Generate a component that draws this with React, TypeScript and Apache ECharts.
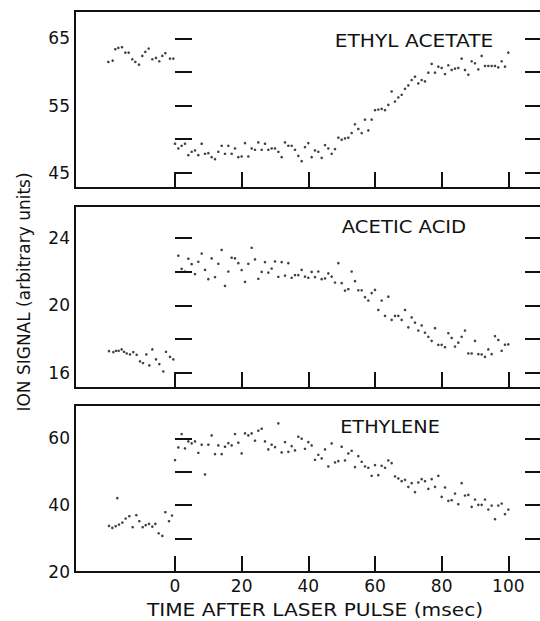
import React, { useEffect, useRef } from "react";
import * as echarts from "echarts";

// ---------- DATA ----------
// Ethyl acetate
const eaPreTime = [-20, -18.7, -17.9, -17, -15.9, -14.9, -13.9, -12.8, -11.9, -10.8, -9.8, -8.9, -7.9, -6.8, -5.7, -4.7, -3.8, -2.9, -1.5, -0.5];
const eaPre = [61.5, 61.7, 63.4, 63.6, 63.7, 62.9, 62.9, 61.9, 61.5, 61.1, 62.4, 63.0, 63.5, 61.9, 62.1, 61.6, 62.4, 62.8, 62.0, 62.0];
const eaPostTime = [0, 1, 2, 3, 4, 5, 6, 7, 8, 9, 10, 11, 12, 13, 14, 15, 16, 17, 18, 19, 20, 21, 22, 23, 24, 25, 26, 27, 28, 29, 30, 31, 32, 33, 34, 35, 36, 37, 38, 39, 40, 41, 42, 43, 44, 45, 46, 47, 48, 49, 50, 51, 52, 53, 54, 55, 56, 57, 58, 59, 60, 61, 62, 63, 64, 65, 66, 67, 68, 69, 70, 71, 72, 73, 74, 75, 76, 77, 78, 79, 80, 81, 82, 83, 84, 85, 86, 87, 88, 89, 90, 91, 92, 93, 94, 95, 96, 97, 98, 99, 100];
const eaPost = [
  49.3, 48.6, 49.0, 49.3, 47.6, 48.1, 48.3, 47.6, 49.3, 47.8, 47.9, 47.3, 47.0, 48.1, 49.0, 47.8, 49.0, 47.8, 48.6, 47.3,
  47.4, 49.4, 47.4, 48.6, 48.4, 49.5, 48.4, 49.3, 48.4, 48.6, 48.6, 48.1, 47.3, 49.5, 49.0,
  49.0, 48.4, 47.5, 46.7, 48.8, 49.4, 47.3, 48.3, 48.1, 47.2, 49.1, 48.6, 47.8, 48.5, 50.2, 49.9, 50.1, 50.2, 50.9, 52.2,
  51.5, 50.9, 52.9, 51.3, 52.9, 54.3, 54.4, 54.5, 54.3, 55.1, 57.1, 55.6, 56.2, 56.6, 57.5, 58.0, 58.8, 59.3, 58.3, 58.8,
  58.6, 59.9, 61.2, 59.9, 60.8, 60.6, 59.7, 61.0, 60.3, 60.5, 60.6, 62.0, 60.3, 59.6, 61.6, 61.3, 60.4, 62.4, 60.9, 60.9,
  60.9, 60.9, 60.7, 61.6, 60.8, 62.9,
];

// Acetic acid
const aaPreTime = [-19.8, -18.5, -17.7, -16.9, -16.0, -15.3, -14.5, -13.5, -12.5, -11.5, -10.5, -9.6, -8.6, -7.7, -6.8, -5.7, -4.7, -3.5, -2.7, -1.5, -0.5];
const aaPre = [17.29, 17.23, 17.31, 17.31, 17.39, 17.25, 17.15, 17.09, 17.23, 17.07, 16.68, 16.58, 17.09, 16.44, 17.39, 16.80, 16.52, 16.08, 17.25, 16.95, 16.80];
const aaPostTime = [1, 2, 3, 4, 5, 6, 7, 8, 9, 10, 11, 12, 13, 14, 15, 16, 17, 18, 19, 20, 21, 22, 23, 24, 25, 26, 27, 28, 29, 30, 31, 32, 33, 34, 35, 36, 37, 38, 39, 40, 41, 42, 43, 44, 45, 46, 47, 48, 49, 50, 51, 52, 53, 54, 55, 56, 57, 58, 59, 60, 61, 62, 63, 64, 65, 66, 67, 68, 69, 70, 71, 72, 73, 74, 75, 76, 77, 78, 79, 80, 81, 82, 83, 84, 85, 86, 87, 88, 89, 90, 91, 92, 93, 94, 95, 96, 97, 98, 99, 100];
const aaPost = [
  22.95, 22.17, 22.01, 22.77, 22.45, 21.86, 22.59, 23.08, 22.11, 21.56, 22.79, 21.68, 22.47, 23.29, 21.16, 22.01, 22.83, 22.79, 22.51, 22.10,
  21.40, 22.47, 23.42, 22.73, 21.58, 21.99, 22.57, 21.95, 22.19, 22.61, 21.70, 22.57, 21.77, 22.51, 21.64, 21.80, 21.80, 22.11, 21.71, 21.64,
  21.99, 21.68, 22.01, 21.56, 21.60, 21.90, 21.71, 21.36, 22.51, 21.32, 20.88, 20.96, 22.01, 21.44, 20.90, 20.90, 20.49, 20.29, 20.73, 20.92,
  19.73, 20.29, 19.38, 20.52, 19.14, 19.38, 19.38, 19.14, 19.73, 18.70, 19.29, 18.98, 18.51, 18.81, 18.38, 18.14, 17.90, 18.65, 17.66, 17.66,
  17.52, 18.35, 18.07, 17.56, 17.79, 18.14, 18.51, 17.15, 17.15, 17.90, 17.11, 17.09, 16.95, 17.39, 17.11, 18.18, 17.95, 17.31, 17.67, 17.69,
];

// Ethylene
const etPreTime = [-19.8, -18.8, -17.8, -17.3, -16.8, -15.8, -14.8, -13.7, -12.7, -11.6, -10.7, -9.7, -8.8, -7.8, -6.8, -5.9, -4.9, -3.8, -2.9, -1.8, -0.9];
const etPre = [33.8, 33.2, 33.7, 42.1, 34.2, 34.8, 36.0, 36.7, 33.4, 37.0, 35.2, 33.4, 34.0, 34.4, 33.6, 34.4, 31.6, 30.8, 37.9, 35.2, 36.9];
const etPostTime = eaPostTime;
const etPost = [
  53.5, 57.3, 61.3, 57.0, 59.1, 58.5, 59.1, 55.7, 58.1, 49.2, 58.1, 60.9, 55.3, 57.9, 55.3, 57.5, 58.6, 57.9, 61.3, 58.7,
  55.5, 61.5, 60.9, 61.5, 59.3, 62.3, 62.9, 59.1, 56.7, 58.1, 57.4, 64.5, 55.8, 58.9, 56.0, 57.7, 56.4, 60.5, 59.9, 56.9,
  58.9, 57.9, 53.6, 55.1, 54.0, 56.7, 51.6, 58.5, 52.8, 53.2, 57.5, 53.4, 55.5, 56.3, 51.4, 54.7, 53.0, 51.6, 51.2, 48.8,
  52.0, 49.0, 51.8, 51.2, 53.4, 52.6, 48.6, 48.0, 47.2, 47.6, 45.5, 46.6, 43.9, 46.8, 47.8, 47.2, 44.9, 47.8, 45.5, 48.8,
  42.5, 45.3, 41.3, 41.5, 43.5, 40.3, 46.6, 42.9, 43.1, 39.5, 41.7, 40.1, 40.1, 41.7, 38.7, 39.9, 35.8, 39.9, 40.5, 37.3,
  38.7,
];

// Axes
const xTicks = [0, 20, 40, 60, 80, 100];
const eaTicks = [45, 50, 55, 60, 65];
const eaLabels = [45, 55, 65];
const aaTicks = [16, 18, 20, 22, 24];
const aaLabels = [16, 20, 24];
const etTicks = [30, 40, 50, 60];
const etLabels = [20, 40, 60];

const panelNames = ["ETHYL ACETATE", "ACETIC ACID", "ETHYLENE"];
const xTitle = "TIME AFTER LASER PULSE (msec)";
const yTitle = "ION SIGNAL (arbitrary units)";

const FONT = "DejaVu Sans";

function zip(t: number[], v: number[]) {
  return v.map((y, i) => [t[i], y]);
}

export default function App() {
  const ref = useRef<HTMLDivElement>(null);
  useEffect(() => {
    const chart = echarts.init(ref.current!, null, { renderer: "svg" });
    const grids = [
      { left: 75, top: 11, width: 470, height: 177 },
      { left: 75, top: 206, width: 470, height: 182 },
      { left: 75, top: 405, width: 470, height: 167 },
    ].map((g) => ({
      ...g,
      show: true,
      borderColor: "#111",
      borderWidth: 2,
      containLabel: false,
      outerBoundsMode: "none",
    }));
    const yRanges = [
      { min: 42.7, max: 69.1, ticks: eaTicks, labels: eaLabels },
      { min: 15.1, max: 25.9, ticks: aaTicks, labels: aaLabels },
      { min: 20, max: 70, ticks: etTicks, labels: etLabels },
    ];
    const tickLine = { color: "#111", width: 2 };
    const xAxes = [0, 1, 2].map((i) => ({
      gridIndex: i,
      type: "value",
      min: -30,
      max: 111,
      axisLine: { show: false },
      axisTick: { show: true, inside: true, length: 16, customValues: xTicks, lineStyle: tickLine },
      axisLabel: {
        show: i === 2,
        customValues: xTicks,
        fontSize: 17,
        fontFamily: FONT,
        color: "#111",
        margin: 5,
      },
      splitLine: { show: false },
    }));
    const yAxes: any[] = [];
    yRanges.forEach((r, i) => {
      yAxes.push({
        gridIndex: i,
        type: "value",
        position: "left",
        min: r.min,
        max: r.max,
        axisLine: { show: false },
        axisTick: { show: true, inside: true, length: 17, customValues: r.ticks, lineStyle: tickLine },
        axisLabel: {
          customValues: r.labels,
          fontSize: 17,
          fontFamily: FONT,
          color: "#111",
          margin: 5,
        },
        splitLine: { show: false },
      });
      yAxes.push({
        gridIndex: i,
        type: "value",
        position: "right",
        min: r.min,
        max: r.max,
        axisLine: { show: false },
        axisTick: { show: true, inside: true, length: 20, customValues: r.ticks, lineStyle: tickLine },
        axisLabel: { show: false },
        splitLine: { show: false },
      });
    });
    const dot = { symbol: "circle", symbolSize: 2.6, itemStyle: { color: "#111" } };
    const series = [
      { data: zip(eaPreTime, eaPre), g: 0 },
      { data: zip(eaPostTime, eaPost), g: 0 },
      { data: zip(aaPreTime, aaPre), g: 1 },
      { data: zip(aaPostTime, aaPost), g: 1 },
      { data: zip(etPreTime, etPre), g: 2 },
      { data: zip(etPostTime, etPost), g: 2 },
    ].map((s) => ({
      type: "scatter",
      xAxisIndex: s.g,
      yAxisIndex: s.g * 2,
      data: s.data,
      ...dot,
    }));
    const txt = (text: string, x: number, y: number, size: number, sx: number, rot = 0) => ({
      type: "text",
      x,
      y,
      scaleX: sx,
      rotation: rot,
      style: {
        text,
        font: `${size}px "${FONT}"`,
        fill: "#111",
        textAlign: "center",
        textVerticalAlign: "middle",
      },
    });
    chart.setOption({
      animation: false,
      backgroundColor: "#fff",
      grid: grids,
      xAxis: xAxes,
      yAxis: yAxes,
      series,
      graphic: [
        txt(panelNames[0], 414, 41, 18, 1.12),
        txt(panelNames[1], 404, 227, 18, 1.09),
        txt(panelNames[2], 390, 427, 18, 1.07),
        txt(xTitle, 315, 610, 18, 1.12),
        txt(yTitle, 24, 292, 17, 1.0, Math.PI / 2),
      ],
    });
    return () => chart.dispose();
  }, []);
  return (
    <div
      ref={ref}
      style={{ position: "fixed", left: 0, top: 0, width: 540, height: 621, background: "#fff" }}
    />
  );
}
